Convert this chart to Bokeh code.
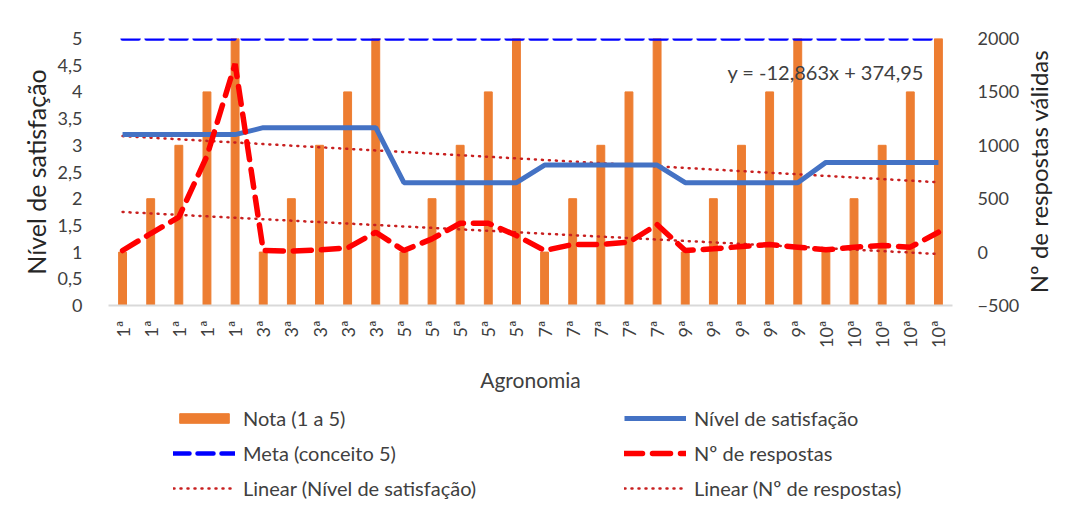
import numpy as np
from bokeh.plotting import figure
from bokeh.layouts import column, row
from bokeh.models import (Range1d, LinearAxis, FixedTicker, Legend, LegendItem,
                          ColumnDataSource, Label)
from bokeh.embed import file_html
from bokeh.resources import INLINE

# ---------------- data ----------------
semestres = ["1ª", "1ª", "1ª", "1ª", "1ª",
             "3ª", "3ª", "3ª", "3ª", "3ª",
             "5ª", "5ª", "5ª", "5ª", "5ª",
             "7ª", "7ª", "7ª", "7ª", "7ª",
             "9ª", "9ª", "9ª", "9ª", "9ª",
             "10ª", "10ª", "10ª", "10ª", "10ª"]
nota = [1, 2, 3, 4, 5, 1, 2, 3, 4, 5, 1, 2, 3, 4, 5,
        1, 2, 3, 4, 5, 1, 2, 3, 4, 5, 1, 2, 3, 4, 5]
satisfacao = [3.2, 3.2, 3.2, 3.2, 3.2,
              3.33, 3.33, 3.33, 3.33, 3.33,
              2.3, 2.3, 2.3, 2.3, 2.3,
              2.63, 2.63, 2.63, 2.63, 2.63,
              2.3, 2.3, 2.3, 2.3, 2.3,
              2.68, 2.68, 2.68, 2.68, 2.68]
meta = [5] * 30
respostas = [15, 174, 327, 900, 1763,
             15, 10, 20, 40, 186,
             15, 124, 270, 270, 155,
             15, 71, 71, 93, 258,
             15, 31, 52, 71, 46,
             21, 46, 62, 46, 186]
left_ticks = [0, 0.5, 1, 1.5, 2, 2.5, 3, 3.5, 4, 4.5, 5]
left_tick_labels = ["0", "0,5", "1", "1,5", "2", "2,5", "3", "3,5", "4", "4,5", "5"]
right_ticks = [-500, 0, 500, 1000, 1500, 2000]
equacao = "y = -12,863x + 374,95"
titulo_dir = "Nº de respostas válidas"

x = np.arange(1, len(semestres) + 1)
sat_fit = np.polyval(np.polyfit(x, satisfacao, 1), x)
resp_fit = np.polyval(np.polyfit(x, respostas, 1), x)

src = ColumnDataSource(dict(x=x, nota=nota, sat=satisfacao, meta=meta, resp=respostas,
                            sat_fit=sat_fit, resp_fit=resp_fit))

FONT = "Lato"
TXT = "#404040"

# series styles (shared by chart and legend)
S_BAR = dict(color="#ED7D31")
S_META = dict(color="#0000FF", line_width=4.5, line_dash="16 8", line_cap="round")
S_FIT = dict(color="#C82020", line_width=2.5, line_dash="1 6", line_cap="round")
S_SAT = dict(color="#4472C4", line_width=5)
S_RESP = dict(color="#FF0000", line_width=5.5, line_dash="18 10", line_cap="round")

W = 1054          # total width
WR = 32           # strip holding the right-axis title
WP = W - WR       # main chart width
H1 = 400
p = figure(width=WP, height=H1, output_backend="svg", toolbar_location=None,
           x_range=Range1d(0.5, len(semestres) + 0.5), y_range=Range1d(0, 5),
           min_border_left=108, min_border_right=WP - 952, min_border_top=38,
           min_border_bottom=H1 - 305)
p.extra_y_ranges = {"resp": Range1d(-500, 2000)}
p.grid.visible = False
p.outline_line_color = None

# glyphs
p.vbar(x="x", top="nota", width=0.28, source=src, **S_BAR)
p.line("x", "meta", source=src, **S_META)
p.line("x", "sat_fit", source=src, **S_FIT)
p.line("x", "resp_fit", source=src, y_range_name="resp", **S_FIT)
p.line("x", "sat", source=src, **S_SAT)
p.line("x", "resp", source=src, y_range_name="resp", **S_RESP)

# axes
xa = p.xaxis[0]
xa.ticker = FixedTicker(ticks=list(x))
xa.major_label_overrides = {int(i): s for i, s in zip(x, semestres)}
xa.major_label_orientation = np.pi / 2
xa.major_tick_line_color = None
xa.minor_tick_line_color = None
xa.axis_line_color = "#D9D9D9"
xa.axis_line_width = 2
xa.major_label_text_font = FONT
xa.major_label_text_font_size = "18px"
xa.major_label_text_color = TXT
xa.major_label_standoff = 9
xa.axis_label = "Agronomia"
xa.axis_label_text_font = FONT
xa.axis_label_text_font_size = "21px"
xa.axis_label_text_font_style = "normal"
xa.axis_label_text_color = TXT
xa.axis_label_standoff = 16

ya = p.yaxis[0]
ya.ticker = FixedTicker(ticks=left_ticks)
ya.major_label_overrides = {t: s for t, s in zip(left_ticks, left_tick_labels)}
ya.major_tick_line_color = None
ya.minor_tick_line_color = None
ya.axis_line_color = None
ya.major_label_text_font = FONT
ya.major_label_text_font_size = "18px"
ya.major_label_text_color = TXT
ya.major_label_standoff = 20
ya.axis_label = "Nível de satisfação"
ya.axis_label_text_font = FONT
ya.axis_label_text_font_size = "25px"
ya.axis_label_text_font_style = "normal"
ya.axis_label_text_color = "#262626"
ya.axis_label_standoff = 4

ra = LinearAxis(y_range_name="resp", ticker=FixedTicker(ticks=right_ticks))
ra.major_tick_line_color = None
ra.minor_tick_line_color = None
ra.axis_line_color = None
ra.major_label_text_font = FONT
ra.major_label_text_font_size = "18px"
ra.major_label_text_color = TXT
ra.major_label_standoff = 19
p.add_layout(ra, "right")

# equation label
p.add_layout(Label(x=22.5, y=4.37, text=equacao, text_font=FONT,
                   text_font_size="20px", text_color=TXT, text_baseline="middle"))

# ---------------- right-axis title strip ----------------
r = figure(width=WR, height=H1, output_backend="svg", toolbar_location=None,
           x_axis_type=None, y_axis_type=None,
           x_range=Range1d(0, WR), y_range=Range1d(H1, 0),
           min_border_left=0, min_border_right=0, min_border_top=0, min_border_bottom=0)
r.frame_align = False
r.grid.visible = False
r.outline_line_color = None
r.add_layout(Label(x=16, y=171, text=titulo_dir, angle=np.pi / 2,
                   text_align="center", text_baseline="middle", text_font=FONT,
                   text_font_size="24px", text_color="#262626"))

# ---------------- legend strip ----------------
H2 = 108
q = figure(width=W, height=H2, output_backend="svg", toolbar_location=None,
           x_axis_type=None, y_axis_type=None, x_range=Range1d(0, 1), y_range=Range1d(0, 1),
           min_border_left=0, min_border_right=0, min_border_top=0, min_border_bottom=0)
q.frame_align = False
q.grid.visible = False
q.outline_line_color = None
off = ColumnDataSource(dict(x=[-5, -4], y=[-5, -4]))  # outside the visible range
g_bar = q.vbar(x="x", top="y", width=0.1, source=off, **S_BAR)
g_meta = q.line("x", "y", source=off, **S_META)
g_fit1 = q.line("x", "y", source=off, **S_FIT)
g_sat = q.line("x", "y", source=off, **S_SAT)
g_resp = q.line("x", "y", source=off, **S_RESP)
g_fit2 = q.line("x", "y", source=off, **S_FIT)


def mk_legend(items, loc):
    return Legend(items=items, location=loc, orientation="vertical",
                  glyph_width=62, glyph_height=12, label_height=22,
                  spacing=11, label_standoff=8, padding=0, margin=0,
                  border_line_color=None, background_fill_alpha=0,
                  label_text_font=FONT, label_text_font_size="20px",
                  label_text_color=TXT)


q.add_layout(mk_legend([LegendItem(label="Nota (1 a 5)", renderers=[g_bar]),
                        LegendItem(label="Meta (conceito 5)", renderers=[g_meta]),
                        LegendItem(label="Linear (Nível de satisfação)", renderers=[g_fit1])],
                       (173, 8)))
q.add_layout(mk_legend([LegendItem(label="Nível de satisfação", renderers=[g_sat]),
                        LegendItem(label="Nº de respostas", renderers=[g_resp]),
                        LegendItem(label="Linear (Nº de respostas)", renderers=[g_fit2])],
                       (624, 8)))

layout = column(row(p, r, spacing=0), q, spacing=0)
open("out.html", "w").write(file_html(layout, INLINE))
